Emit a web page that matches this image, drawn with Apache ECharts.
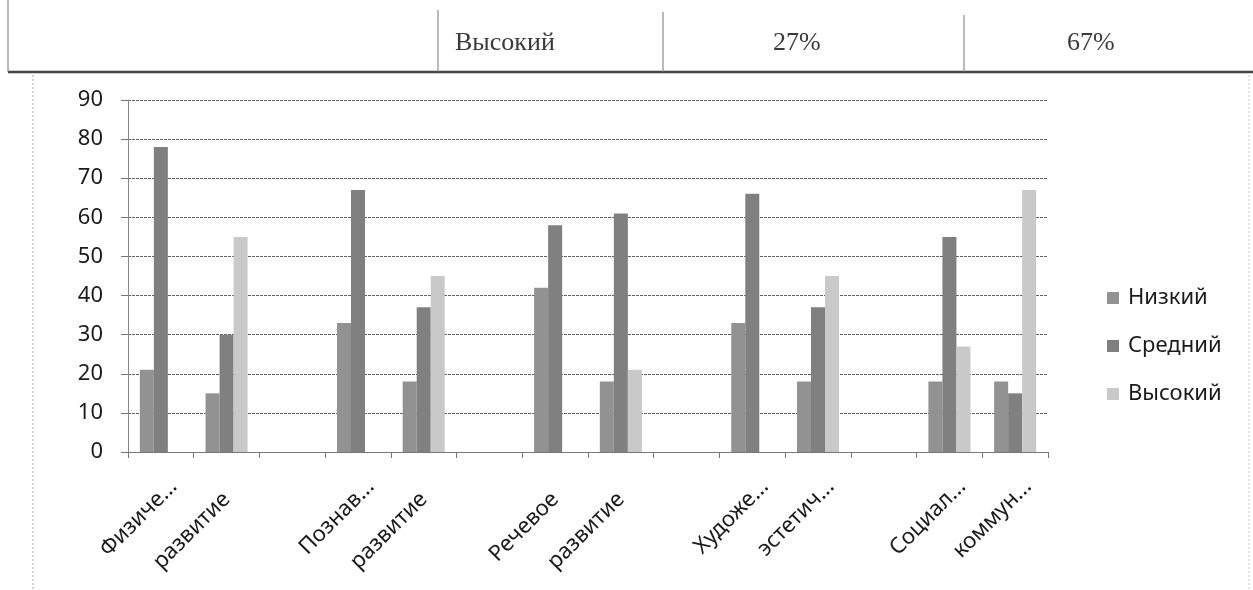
<!DOCTYPE html>
<html>
<head>
<meta charset="utf-8">
<script src="https://cdn.jsdelivr.net/npm/echarts@6/dist/echarts.min.js"></script>
<style>
  html, body { margin: 0; padding: 0; background: #fff; }
  #chart { width: 1253px; height: 590px; }
</style>
</head>
<body>
<div id="chart"></div>
<script>
// ---- data ----
const categories = ["Физиче...", "развитие", "", "Познав...", "развитие", "", "Речевое", "развитие", "", "Художе...", "эстетич...", "", "Социал...", "коммун..."];
const seriesNames = ["Низкий", "Средний", "Высокий"];
const low  = [21, 15, null, 33, 18, null, 42, 18, null, 33, 18, null, 18, 18];
const mid  = [78, 30, null, 67, 37, null, 58, 61, null, 66, 37, null, 55, 15];
const high = [null, 55, null, null, 45, null, null, 21, null, null, 45, null, 27, 67];
const yTicks = [0, 10, 20, 30, 40, 50, 60, 70, 80, 90];
const tableCells = ["Высокий", "27%", "67%"];

const colors = ["#929292", "#808080", "#c9c9c9"];
const sansFont = "'Noto Sans', 'DejaVu Sans', sans-serif";
const serifFont = "'Liberation Serif', 'DejaVu Serif', serif";

const chart = echarts.init(document.getElementById('chart'), null, { renderer: 'canvas' });

const values = [low, mid, high];
const series = seriesNames.map((name, i) => ({
  name: name,
  type: 'bar',
  data: values[i],
  barGap: '0%',
  barCategoryGap: '36%',
  itemStyle: { color: colors[i] },
  emphasis: { disabled: true }
}));

// truncated labels (ending with "...") sit further along their direction in the reference
const xData = categories.map(c => c.endsWith('...')
  ? { value: c, textStyle: { padding: [0, -18, 0, 0] } }
  : { value: c });

const option = {
  animation: false,
  backgroundColor: '#fff',
  color: colors,
  grid: { left: 128, right: 205, top: 100, bottom: 138, containLabel: false },
  legend: {
    orient: 'vertical',
    left: 1107,
    top: 287,
    padding: 0,
    itemWidth: 12,
    itemHeight: 12,
    itemGap: 26,
    icon: 'rect',
    textStyle: { fontFamily: sansFont, fontSize: 22, color: '#1a1a1a', padding: [0, 0, 0, 4] },
    data: seriesNames
  },
  xAxis: {
    type: 'category',
    data: xData,
    axisLine: { show: true, lineStyle: { color: '#777', width: 1 } },
    axisTick: { show: true, length: 6, lineStyle: { color: '#777' }, alignWithLabel: false },
    axisLabel: {
      interval: 0,
      rotate: 45,
      margin: 44,
      fontFamily: sansFont,
      fontSize: 22,
      color: '#1a1a1a'
    },
    splitLine: { show: false }
  },
  yAxis: {
    type: 'value',
    min: yTicks[0],
    max: yTicks[yTicks.length - 1],
    interval: 10,
    axisLine: { show: true, lineStyle: { color: '#888', width: 1 } },
    axisTick: { show: true, length: 7, lineStyle: { color: '#777' } },
    axisLabel: { fontFamily: sansFont, fontSize: 22, color: '#1a1a1a', margin: 25 },
    splitLine: { show: true, lineStyle: { color: '#606060', width: 1, type: [3, 1] } }
  },
  series: series,
  graphic: [
    // table lines
    { type: 'line', shape: { x1: 8, y1: 72, x2: 1253, y2: 72 }, style: { stroke: '#444', lineWidth: 2.5 } },
    { type: 'line', shape: { x1: 8, y1: 0, x2: 8, y2: 72 }, style: { stroke: '#777', lineWidth: 1 } },
    { type: 'line', shape: { x1: 438, y1: 10, x2: 438, y2: 72 }, style: { stroke: '#777', lineWidth: 1 } },
    { type: 'line', shape: { x1: 663, y1: 12, x2: 663, y2: 72 }, style: { stroke: '#777', lineWidth: 1 } },
    { type: 'line', shape: { x1: 964, y1: 15, x2: 964, y2: 72 }, style: { stroke: '#777', lineWidth: 1 } },
    { type: 'text', style: { x: 455, y: 43, text: tableCells[0], font: '26px ' + serifFont, fill: '#3a3a3a', verticalAlign: 'middle' } },
    { type: 'text', style: { x: 773, y: 43, text: tableCells[1], font: '26px ' + serifFont, fill: '#3a3a3a', verticalAlign: 'middle' } },
    { type: 'text', style: { x: 1067, y: 43, text: tableCells[2], font: '26px ' + serifFont, fill: '#3a3a3a', verticalAlign: 'middle' } },
    // chart area border
    { type: 'line', shape: { x1: 33, y1: 75, x2: 33, y2: 590 }, style: { stroke: '#aaa', lineWidth: 1, lineDash: [2, 2] } },
    { type: 'line', shape: { x1: 1249, y1: 75, x2: 1249, y2: 590 }, style: { stroke: '#ccc', lineWidth: 1, lineDash: [2, 2] } }
  ]
};

chart.setOption(option);
</script>
</body>
</html>
